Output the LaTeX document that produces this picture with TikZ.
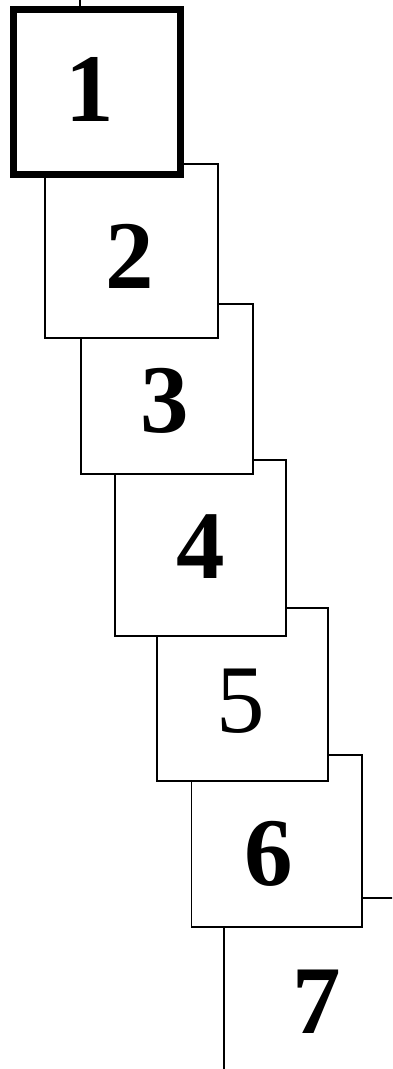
\documentclass[tikz,border=0pt]{standalone}
\usepackage{fontspec}
\setmainfont{Liberation Serif}
\usetikzlibrary{positioning,calc}

\begin{document}
\begin{tikzpicture}[
  x=1pt, y=-1pt,
  box/.style={draw=black, line width=1.2pt, fill=white, inner sep=0pt},
  firstbox/.style={box, line width=7.5pt},
  num/.style={font=\fontsize{97}{100}\selectfont\bfseries, inner sep=0pt,
    anchor=base},
  numlight/.style={num, font=\fontsize{97}{100}\selectfont},
  ed/.style={line width=1.2pt, black},
]
\useasboundingbox (0,0) rectangle (392,1069);
\clip (0,0) rectangle (392,1069);
% stack of pages, back to front
\node[box, minimum width=172pt, minimum height=172pt] (b7) at (310,984) {};
\node[box, minimum width=170.5pt, minimum height=172pt] (b6) at (276.7,841) {};
\node[box, minimum width=171pt, minimum height=173pt] (b5) at (242.5,694.5) {};
\node[box, minimum width=171pt, minimum height=176pt] (b4) at (200.5,548) {};
\node[box, minimum width=172pt, minimum height=170pt] (b3) at (167,389) {};
\node[box, minimum width=173pt, minimum height=174pt] (b2) at (131.5,251) {};
\node[firstbox, minimum width=167pt, minimum height=165pt] (b1) at (97,92) {};
\coordinate (in) at (80,0);
\draw[ed] (in) -- (in |- b1.north);
% page numbers
\foreach \i/\x/\y in {1/90/121, 2/130/288, 3/164.5/432, 4/201/578,
    6/269/885, 7/316.5/1033} {
  \node[num] (n\i) at (\x,\y) {\i};
}
\node[numlight] (n5) at (241,732) {5};
\end{tikzpicture}
\end{document}
